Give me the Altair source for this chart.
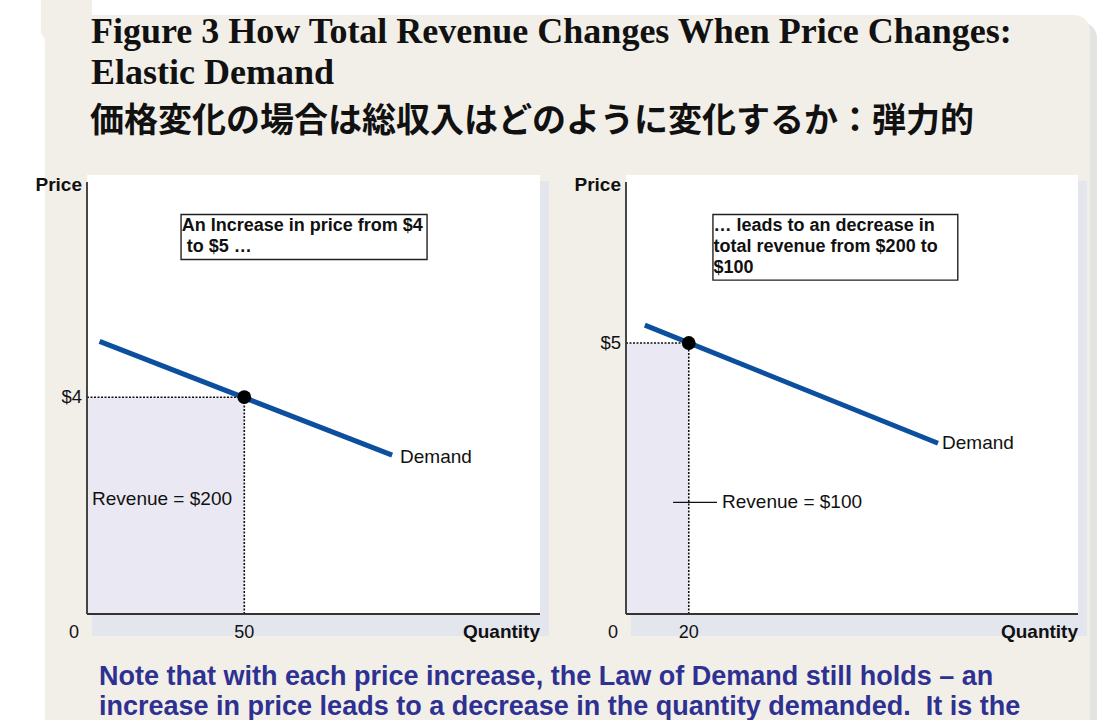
import altair as alt
import pandas as pd

# ---- chart values -------------------------------------------------------
Q_MAX = 144          # quantity axis limit (both panels)
P_MAX = 8.1          # price axis limit (both panels)

left_demand_q = [4, 97]
left_demand_p = [5.03, 2.93]
left_point = {"q": 50, "p": 4}
left_q_ticks = [0, 50]
left_p_tick = 4

right_demand_q = [6, 99.4]
right_demand_p = [5.33, 3.15]
right_point = {"q": 20, "p": 5}
right_q_ticks = [0, 20]
right_p_tick = 5

left_box_lines = ["An Increase in price from $4", "to $5 \u2026"]
right_box_lines = ["\u2026 leads to an decrease in", "total revenue from $200 to", "$100"]
left_revenue = "Revenue = $200"
right_revenue = "Revenue = $100"

title_lines = [
    "Figure 3 How Total Revenue Changes When Price Changes:",
    "Elastic Demand",
]
title_jp = "価格変化の場合は総収入はどのように変化するか：弾力的"
note_lines = [
    "Note that with each price increase, the Law of Demand still holds \u2013 an",
    "increase in price leads to a decrease in the quantity demanded.\u00a0 It is the",
]

# ---- styling -------------------------------------------------------------
BEIGE = "#f2efe8"
SHADE = "#eae8f2"
BLUE = "#0b4f9e"
NOTE = "#2e3192"
SANS = "Liberation Sans"

W, H = 1105, 720
one = pd.DataFrame({"k": [0]})


def panel(x_range, demand_q, demand_p, point, q_ticks, p_tick, box, box_lines, box_indent,
          revenue, revenue_at, demand_label_at, leader=None):
    xs = alt.Scale(domain=[0, Q_MAX], range=x_range, nice=False, zero=False)
    ys = alt.Scale(domain=[0, P_MAX], range=[614, 175], nice=False, zero=False)
    X = lambda f: alt.X(f, type="quantitative", scale=xs, axis=None)
    Y = lambda f: alt.Y(f, type="quantitative", scale=ys, axis=None)
    X2 = lambda f: alt.X2(f)
    Y2 = lambda f: alt.Y2(f)

    frame = pd.DataFrame({"q0": [0], "q1": [Q_MAX], "p0": [0], "p1": [P_MAX]})
    shadow = alt.Chart(frame).mark_rect(
        fill="#e4e6ee", xOffset=5, x2Offset=9, yOffset=22, y2Offset=6
    ).encode(x=X("q0"), x2=X2("q1"), y=Y("p0"), y2=Y2("p1"))
    white = alt.Chart(frame).mark_rect(fill="white").encode(
        x=X("q0"), x2=X2("q1"), y=Y("p0"), y2=Y2("p1"))

    rev = pd.DataFrame({"q0": [0], "q1": [point["q"]], "p0": [0], "p1": [point["p"]]})
    area = alt.Chart(rev).mark_rect(fill=SHADE).encode(
        x=X("q0"), x2=X2("q1"), y=Y("p0"), y2=Y2("p1"))

    hguide = alt.Chart(rev).mark_rule(color="#111", strokeWidth=1.6, strokeDash=[2, 1.5]).encode(
        x=X("q0"), x2=X2("q1"), y=Y("p1"))
    vguide = alt.Chart(rev).mark_rule(color="#111", strokeWidth=1.6, strokeDash=[2, 1.5]).encode(
        x=X("q1"), y=Y("p0"), y2=Y2("p1"))

    axes = pd.DataFrame({"q0": [0], "q1": [Q_MAX], "p0": [0], "p1": [7.97]})
    xaxis = alt.Chart(axes).mark_rule(color="#333", strokeWidth=1.8).encode(
        x=X("q0"), x2=X2("q1"), y=Y("p0"))
    yaxis = alt.Chart(axes).mark_rule(color="#333", strokeWidth=1.8).encode(
        x=X("q0"), y=Y("p0"), y2=Y2("p1"))

    demand = alt.Chart(pd.DataFrame({"q": demand_q, "p": demand_p})).mark_line(
        color=BLUE, strokeWidth=5, strokeCap="butt").encode(x=X("q"), y=Y("p"))
    dot = alt.Chart(pd.DataFrame([point])).mark_point(
        filled=True, color="black", opacity=1, size=190).encode(x=X("q"), y=Y("p"))

    # tick labels and axis titles
    ticks = pd.DataFrame({"q": q_ticks, "p": [0] * len(q_ticks),
                          "t": [str(v) for v in q_ticks]})
    zero_lbl = alt.Chart(ticks.iloc[:1]).mark_text(
        font=SANS, fontSize=18, color="#111", align="center", baseline="middle",
        dx=-13, dy=19).encode(x=X("q"), y=Y("p"), text="t:N")
    q_lbl = alt.Chart(ticks.iloc[1:]).mark_text(
        font=SANS, fontSize=18, color="#111", align="center", baseline="middle",
        dy=19).encode(x=X("q"), y=Y("p"), text="t:N")
    p_lbl = alt.Chart(pd.DataFrame({"q": [0], "p": [p_tick], "t": [f"${p_tick}"]})).mark_text(
        font=SANS, fontSize=18.5, color="#111", align="right", baseline="middle",
        dx=-5).encode(x=X("q"), y=Y("p"), text="t:N")
    price_t = alt.Chart(pd.DataFrame({"q": [0], "p": [P_MAX], "t": ["Price"]})).mark_text(
        font=SANS, fontSize=19, fontWeight="bold", color="#111", align="right",
        baseline="middle", dx=-5, dy=10).encode(x=X("q"), y=Y("p"), text="t:N")
    qty_t = alt.Chart(pd.DataFrame({"q": [Q_MAX], "p": [0], "t": ["Quantity"]})).mark_text(
        font=SANS, fontSize=19, fontWeight="bold", color="#111", align="right",
        baseline="middle", dy=18).encode(x=X("q"), y=Y("p"), text="t:N")

    # annotation box
    bx = pd.DataFrame({"q0": [box[0]], "q1": [box[1]], "p0": [box[2]], "p1": [box[3]]})
    box_rect = alt.Chart(bx).mark_rect(fill="white", stroke="#222", strokeWidth=1.4).encode(
        x=X("q0"), x2=X2("q1"), y=Y("p0"), y2=Y2("p1"))
    line_p = [box[3] - 0.22 - 0.387 * i for i in range(len(box_lines))]
    line_q = [box[0] + 0.2 + d for d in box_indent]
    box_txt = alt.Chart(pd.DataFrame({"q": line_q, "p": line_p,
                                      "t": box_lines})).mark_text(
        font=SANS, fontSize=18, fontWeight="bold", color="#111", align="left",
        baseline="middle").encode(x=X("q"), y=Y("p"), text="t:N")

    dem_lbl = alt.Chart(pd.DataFrame({"q": [demand_label_at[0]], "p": [demand_label_at[1]],
                                      "t": ["Demand"]})).mark_text(
        font=SANS, fontSize=19, color="#111", align="left", baseline="middle").encode(
        x=X("q"), y=Y("p"), text="t:N")
    rev_lbl = alt.Chart(pd.DataFrame({"q": [revenue_at[0]], "p": [revenue_at[1]],
                                      "t": [revenue]})).mark_text(
        font=SANS, fontSize=19, color="#111", align="left", baseline="middle").encode(
        x=X("q"), y=Y("p"), text="t:N")

    layers = [shadow, white, area, hguide, vguide, xaxis, yaxis, demand, dot,
              zero_lbl, q_lbl, p_lbl, price_t, qty_t, box_rect, box_txt, dem_lbl, rev_lbl]
    if leader is not None:
        ld = pd.DataFrame({"q0": [leader[0]], "q1": [leader[1]], "p": [leader[2]]})
        layers.append(alt.Chart(ld).mark_rule(color="#111", strokeWidth=1.4).encode(
            x=X("q0"), x2=X2("q1"), y=Y("p")))
    return alt.layer(*layers)


left = panel([87, 540], left_demand_q, left_demand_p, left_point, left_q_ticks, left_p_tick,
             box=(29.9, 108.1, 6.54, 7.37), box_lines=left_box_lines, box_indent=[0, 1.6],
             revenue=left_revenue, revenue_at=(1.6, 2.12), demand_label_at=(99.5, 2.89))
right = panel([626, 1078], right_demand_q, right_demand_p, right_point, right_q_ticks,
              right_p_tick, box=(27.7, 105.7, 6.16, 7.37), box_lines=right_box_lines,
              box_indent=[0, 0, 0],
              revenue=right_revenue, revenue_at=(30.6, 2.06), demand_label_at=(100.7, 3.15),
              leader=(15, 29, 2.06))

# ---- slide backdrop and text ----------------------------------------------
backdrop_shadow = alt.Chart(one).mark_rect(fill="#e3e3e3", cornerRadius=16).encode(
    x=alt.value(60), x2=alt.value(1097), y=alt.value(22), y2=alt.value(760))
backdrop = alt.Chart(one).mark_rect(fill=BEIGE, cornerRadius=16).encode(
    x=alt.value(45), x2=alt.value(1090), y=alt.value(15), y2=alt.value(760))
tab = alt.Chart(one).mark_rect(fill=BEIGE, cornerRadius=9).encode(
    x=alt.value(41), x2=alt.value(92), y=alt.value(-12), y2=alt.value(40))

titles = [
    alt.Chart(one).mark_text(font="Liberation Serif", fontSize=36, fontWeight="bold",
                             color="#111", align="left", baseline="alphabetic",
                             text=title_lines[0]).encode(x=alt.value(91), y=alt.value(43)),
    alt.Chart(one).mark_text(font="Liberation Serif", fontSize=36, fontWeight="bold",
                             color="#111", align="left", baseline="alphabetic",
                             text=title_lines[1]).encode(x=alt.value(91), y=alt.value(84)),
    alt.Chart(one).mark_text(font="Noto Sans CJK JP", fontSize=34, fontWeight="bold",
                             color="#111", align="left", baseline="alphabetic",
                             text=title_jp).encode(x=alt.value(90), y=alt.value(132)),
]
notes = [
    alt.Chart(one).mark_text(font=SANS, fontSize=27, fontWeight="bold", color=NOTE,
                             align="left", baseline="alphabetic",
                             text=note_lines[i]).encode(x=alt.value(99), y=alt.value(y))
    for i, y in enumerate([685, 715])
]

chart = alt.layer(
    backdrop_shadow, backdrop, tab, *titles, left, right, *notes
).resolve_scale(x="independent", y="independent").properties(
    width=W, height=H, autosize=alt.AutoSizeParams(type="none"), padding=0,
    background="white",
).configure_view(stroke=None)

chart.save("out.html", embed_options={"renderer": "svg", "actions": False})
